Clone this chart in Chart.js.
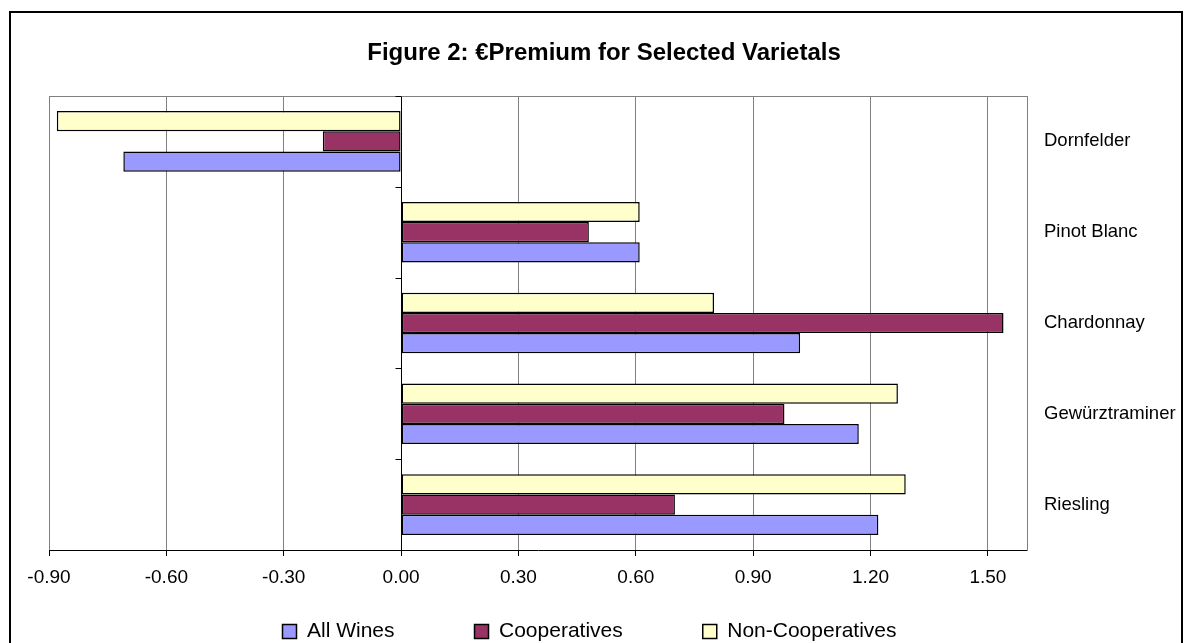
<!DOCTYPE html>
<html>
<head>
<meta charset="utf-8">
<title>Figure 2: €Premium for Selected Varietals</title>
<script src="https://cdn.jsdelivr.net/npm/chart.js@4/dist/chart.umd.min.js"></script>
<style>
  html, body { margin: 0; padding: 0; background: #fff; }
  #wrap { position: relative; width: 1184px; height: 643px; }
</style>
</head>
<body>
<div id="wrap"><canvas id="chart"></canvas></div>
<script>
// Varietals, listed top to bottom
const varietals = ['Dornfelder', 'Pinot Blanc', 'Chardonnay', 'Gewürztraminer', 'Riesling'];

// Price premium (€) per varietal
const allWines        = [-0.71, 0.61, 1.02, 1.17, 1.22];
const cooperatives    = [-0.20, 0.48, 1.54, 0.98, 0.70];
const nonCooperatives = [-0.88, 0.61, 0.80, 1.27, 1.29];

// Value axis
const xMin = -0.9;
const xMax = 1.6;
const xTicks = [-0.9, -0.6, -0.3, 0, 0.3, 0.6, 0.9, 1.2, 1.5];

const FONT = "'Liberation Sans', Arial, Helvetica, sans-serif";

// Outer frame, top edge of the plot, the small category ticks on the zero line,
// and final placement of the title and legend rows
const decorations = {
  id: 'decorations',
  beforeDraw(chart) {
    const ctx = chart.ctx;
    ctx.save();
    ctx.fillStyle = '#fff';
    ctx.fillRect(0, 0, chart.width, chart.height);
    ctx.strokeStyle = '#000';
    ctx.lineWidth = 2;
    ctx.strokeRect(10, 12, chart.width - 12, chart.height + 20);
    ctx.restore();
  },
  afterLayout(chart) {
    const t = chart.titleBlock;
    if (t) { t.left = 24; t.right = chart.width; }
    const lg = chart.legend;
    if (lg) {
      lg.left = 0; lg.right = 1179;
      lg.top = 541; lg.bottom = chart.height;
      lg.width = lg.right - lg.left; lg.height = lg.bottom - lg.top;
    }
  },
  afterDatasetsDraw(chart) {
    const ctx = chart.ctx;
    const a = chart.chartArea;
    const ys = chart.scales.y;
    const x0 = Math.round(chart.scales.x.getPixelForValue(0)) + 0.5;
    ctx.save();
    ctx.lineWidth = 1;
    ctx.strokeStyle = '#808080';
    ctx.beginPath();
    ctx.moveTo(a.left, Math.round(a.top) + 0.5);
    ctx.lineTo(a.right, Math.round(a.top) + 0.5);
    ctx.stroke();
    ctx.strokeStyle = '#000';
    const n = varietals.length;
    const band = (ys.bottom - ys.top) / n;
    ctx.beginPath();
    for (let i = 0; i <= n; i++) {
      const py = Math.round(ys.top + i * band) + 0.5;
      ctx.moveTo(x0 - 6, py);
      ctx.lineTo(x0, py);
    }
    ctx.stroke();
    ctx.restore();
  }
};

new Chart(document.getElementById('chart'), {
  type: 'bar',
  data: {
    labels: varietals,
    datasets: [
      { label: 'Non-Cooperatives', data: nonCooperatives, backgroundColor: '#FFFFCC' },
      { label: 'Cooperatives',     data: cooperatives,    backgroundColor: '#993366' },
      { label: 'All Wines',        data: allWines,        backgroundColor: '#9999FF' }
    ]
  },
  options: {
    indexAxis: 'y',
    responsive: true,
    maintainAspectRatio: false,
    animation: false,
    devicePixelRatio: 1,
    datasets: {
      bar: {
        borderColor: '#000',
        borderWidth: 1.5,
        borderSkipped: false,
        categoryPercentage: 0.667,
        barPercentage: 1
      }
    },
    layout: { padding: { left: 49, right: 0, top: 0, bottom: 0 } },
    scales: {
      x: {
        type: 'linear',
        min: xMin,
        max: xMax,
        afterBuildTicks(scale) { scale.ticks = xTicks.map(v => ({ value: v })); },
        afterFit(scale) { scale.height = 42; },
        grid: {
          color: c => (c.tick && c.tick.value === 0) ? '#000' : '#808080',
          tickColor: '#000',
          tickLength: 6,
          lineWidth: 1
        },
        border: { display: true, color: '#000', width: 1 },
        ticks: {
          padding: 10,
          color: '#000',
          font: { family: FONT, size: 19 },
          maxRotation: 0,
          callback: v => Number(v).toFixed(2)
        }
      },
      y: {
        type: 'category',
        position: 'right',
        afterFit(scale) { scale.width = 157; },
        grid: { display: false, drawTicks: false },
        border: { display: true, color: '#808080', width: 1 },
        ticks: {
          padding: 17,
          color: '#000',
          font: { family: FONT, size: 18.5 },
          autoSkip: false
        }
      }
    },
    plugins: {
      title: {
        display: true,
        text: 'Figure 2: €Premium for Selected Varietals',
        color: '#000',
        font: { family: FONT, size: 24, weight: 'bold' },
        padding: { top: 39, bottom: 28.2 }
      },
      legend: {
        position: 'bottom',
        reverse: true,
        maxHeight: 51,
        labels: {
          color: '#000',
          font: { family: FONT, size: 21 },
          boxWidth: 14,
          boxHeight: 14,
          padding: 80
        }
      },
      tooltip: { enabled: false }
    }
  },
  plugins: [decorations]
});
</script>
</body>
</html>
